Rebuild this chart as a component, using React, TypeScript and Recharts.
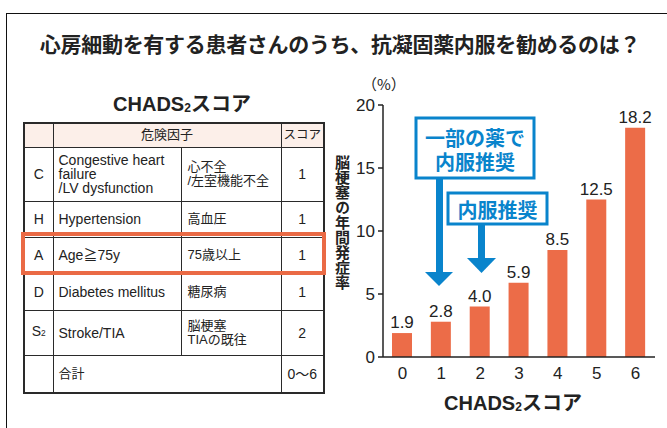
import React from 'react';
import { BarChart, Bar, XAxis, YAxis, LabelList } from 'recharts';

// CHADS2 score vs annual stroke rate (%)
const scores = ['0', '1', '2', '3', '4', '5', '6'];
const strokeRates = [1.9, 2.8, 4.0, 5.9, 8.5, 12.5, 18.2];
const yTicks = [0, 5, 10, 15, 20];

// table rows
const factorCodes = ['C', 'H', 'A', 'D', 'S'];
const factorEn = [['Congestive heart', 'failure', '/LV dysfunction'], ['Hypertension'], ['Age≧75y'], ['Diabetes mellitus'], ['Stroke/TIA']];
const factorJa = [['心不全', '/左室機能不全'], ['高血圧'], ['75歳以上'], ['糖尿病'], ['脳梗塞', 'TIAの既往']];
const factorPoints = [1, 1, 1, 1, 2];

const FONT = '"Liberation Sans", "Noto Sans CJK JP", sans-serif';
const JP = '"Noto Sans CJK JP", sans-serif';
const BAR = '#ec6c48';
const BLUE = '#0984cc';
const INK = '#222';

const chartData = scores.map((s, i) => ({ score: s, rate: strokeRates[i] }));

const Sub2 = () => <span style={{ fontSize: '0.6em', verticalAlign: '-0.05em' }}>2</span>;

const rowHeights = [54, 36, 36, 37, 45];

const cell: React.CSSProperties = { border: '1px solid #2a2a2a', padding: 0, verticalAlign: 'middle' };

const RiskTable = () => (
  <table
    style={{
      position: 'absolute', left: 23, top: 122, width: 300, borderCollapse: 'collapse', tableLayout: 'fixed',
      border: '2px solid #2a2a2a', fontSize: 14, lineHeight: '14px', color: INK, fontFamily: FONT,
    }}
  >
    <colgroup>
      <col style={{ width: 29 }} />
      <col style={{ width: 128 }} />
      <col style={{ width: 100 }} />
      <col style={{ width: 43 }} />
    </colgroup>
    <tbody>
      <tr style={{ height: 24, background: '#fcefe9', fontSize: 13 }}>
        <td style={cell}></td>
        <td style={{ ...cell, textAlign: 'center' }} colSpan={2}>危険因子</td>
        <td style={{ ...cell, textAlign: 'center', fontSize: 12.5 }}>スコア</td>
      </tr>
      {factorCodes.map((c, i) => (
        <tr key={c} style={{ height: rowHeights[i] }}>
          <td style={{ ...cell, textAlign: 'center' }}>{c}{i === 4 ? <Sub2 /> : null}</td>
          <td style={{ ...cell, paddingLeft: 5 }}>{factorEn[i].map((t, k) => <div key={k}>{t}</div>)}</td>
          <td style={{ ...cell, paddingLeft: 6, fontSize: 13 }}>{factorJa[i].map((t, k) => <div key={k}>{t}</div>)}</td>
          <td style={{ ...cell, textAlign: 'center' }}>{factorPoints[i]}</td>
        </tr>
      ))}
      <tr style={{ height: 38 }}>
        <td style={cell}></td>
        <td style={{ ...cell, paddingLeft: 5, fontSize: 13 }} colSpan={2}>合計</td>
        <td style={{ ...cell, textAlign: 'center' }}>0〜6</td>
      </tr>
    </tbody>
  </table>
);

const Arrows = () => (
  <svg width={667} height={428} style={{ position: 'absolute', left: 0, top: 0, pointerEvents: 'none' }}>
    <rect x={436} y={176} width={7} height={97} fill={BLUE} />
    <polygon points="425,272 453,272 439,286" fill={BLUE} />
    <rect x={416} y={118} width={118} height={60} fill="#fff" stroke={BLUE} strokeWidth={3} />
    <text x={475} y={137} textAnchor="middle" dominantBaseline="central" fontSize={20} fontWeight={700} fill={BLUE} fontFamily={JP}>一部の薬で</text>
    <text x={475} y={161} textAnchor="middle" dominantBaseline="central" fontSize={20} fontWeight={700} fill={BLUE} fontFamily={JP}>内服推奨</text>
    <rect x={478} y={222} width={7} height={37} fill={BLUE} />
    <polygon points="467,258 496,258 481.5,273" fill={BLUE} />
    <rect x={448} y={193} width={99} height={31} fill="#fff" stroke={BLUE} strokeWidth={3} />
    <text x={497.5} y={209} textAnchor="middle" dominantBaseline="central" fontSize={20} fontWeight={700} fill={BLUE} fontFamily={JP}>内服推奨</text>
  </svg>
);

export default function App() {
  return (
    <div style={{ position: 'absolute', left: 0, top: 0, width: 667, height: 428, background: '#fff', overflow: 'hidden', fontFamily: FONT, color: INK }}>
      {/* frame */}
      <div style={{ position: 'absolute', left: 6, top: 13, width: 700, height: 500, borderTop: '1.5px solid #111', borderLeft: '1.5px solid #111' }} />

      <div style={{ position: 'absolute', left: 0, top: 30, width: 680, textAlign: 'center', fontSize: 21, fontWeight: 700, lineHeight: '26px', letterSpacing: -0.3, fontFamily: JP }}>
        心房細動を有する患者さんのうち、抗凝固薬内服を勧めるのは？
      </div>

      <div style={{ position: 'absolute', left: 82, top: 92, width: 200, textAlign: 'center', fontSize: 20, fontWeight: 700, lineHeight: '24px' }}>
        CHADS<Sub2 />スコア
      </div>
      <RiskTable />
      {/* highlighted row: age */}
      <div style={{ position: 'absolute', left: 21, top: 232, width: 305, height: 43, boxSizing: 'border-box', border: '4px solid #ea6a45' }} />

      <div style={{ position: 'absolute', left: 0, top: 0 }}>
        <BarChart width={667} height={428} data={chartData} margin={{ top: 105, right: 12, bottom: 41, left: 343 }}>
          <XAxis
            dataKey="score"
            height={30}
            tickLine={false}
            tickSize={0}
            tickMargin={10}
            axisLine={{ stroke: INK, strokeWidth: 1.5 }}
            tick={{ fontSize: 17, fill: INK, fontFamily: FONT }}
          />
          <YAxis
            width={40}
            domain={[0, 20]}
            ticks={yTicks}
            tickSize={5}
            tickMargin={3}
            axisLine={{ stroke: INK, strokeWidth: 1.5 }}
            tickLine={{ stroke: INK, strokeWidth: 1.5 }}
            tick={{ fontSize: 17, fill: INK, fontFamily: FONT }}
          />
          <Bar dataKey="rate" fill={BAR} barSize={20} isAnimationActive={false}>
            <LabelList dataKey="rate" position="top" offset={5} formatter={(v: any) => Number(v).toFixed(1)} style={{ fontSize: 17, fill: INK, fontFamily: FONT }} />
          </Bar>
        </BarChart>
      </div>

      <div style={{ position: 'absolute', left: 362, top: 74, fontSize: 15, lineHeight: '20px', fontFamily: JP }}>（%）</div>
      <div style={{ position: 'absolute', left: 334, top: 155, writingMode: 'vertical-rl', fontSize: 15, fontWeight: 700, lineHeight: '16px', fontFamily: JP }}>
        脳梗塞の年間発症率
      </div>
      <div style={{ position: 'absolute', left: 413, top: 391, width: 200, textAlign: 'center', fontSize: 20, fontWeight: 700, lineHeight: '24px' }}>
        CHADS<Sub2 />スコア
      </div>

      <Arrows />
    </div>
  );
}
